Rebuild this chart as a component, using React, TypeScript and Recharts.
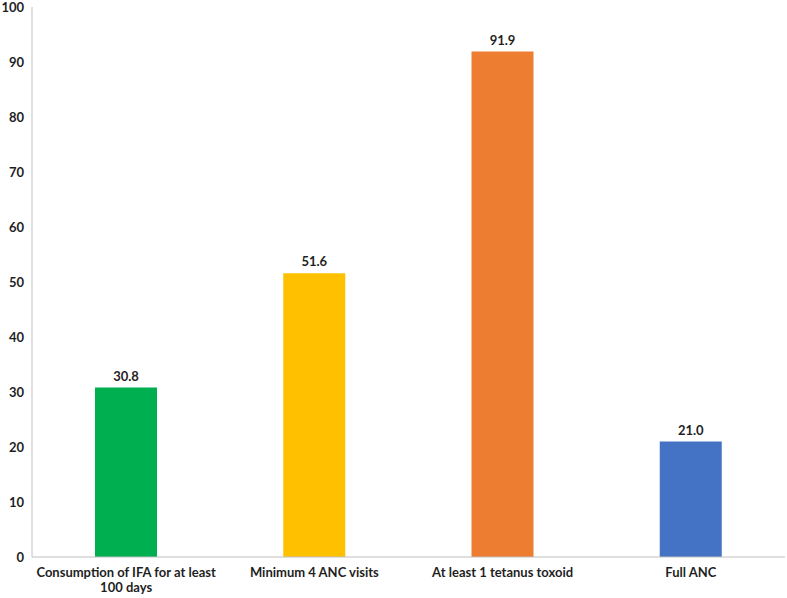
import { BarChart, Bar, XAxis, YAxis, Cell, LabelList, Text } from 'recharts'

const categories = [
  'Consumption of IFA for at least 100 days',
  'Minimum 4 ANC visits',
  'At least 1 tetanus toxoid',
  'Full ANC',
]
const values = [30.8, 51.6, 91.9, 21.0]
const yTicks = [0, 10, 20, 30, 40, 50, 60, 70, 80, 90, 100]

const barColors = ['#00B050', '#FFC000', '#ED7D31', '#4472C4']
const FONT = 'Lato, "Open Sans", sans-serif'
const TEXT_COLOR = '#1f1f1f'

const data = categories.map((name, i) => ({ name, value: values[i] }))

function CategoryTick(props: any) {
  const { x, y, payload } = props
  return (
    <Text
      x={x}
      y={y + 3}
      width={220}
      textAnchor="middle"
      verticalAnchor="start"
      lineHeight={15}
      fill={TEXT_COLOR}
      fontSize={13}
      fontWeight={700}
      fontFamily={FONT}
    >
      {payload.value}
    </Text>
  )
}

export default function App() {
  return (
    <div style={{ position: 'absolute', left: 0, top: 0, background: '#fff' }}>
      <BarChart
        width={787}
        height={598}
        data={data}
        margin={{ top: 7, right: 2, left: 0, bottom: 0 }}
      >
        <XAxis
          dataKey="name"
          height={41}
          tickLine={false}
          axisLine={{ stroke: '#bfbfbf' }}
          interval={0}
          tick={<CategoryTick />}
        />
        <YAxis
          width={32}
          domain={[0, 100]}
          ticks={yTicks}
          interval={0}
          tickLine={false}
          tickMargin={2}
          axisLine={{ stroke: '#bfbfbf' }}
          tick={{ fill: TEXT_COLOR, fontSize: 13, fontWeight: 700, fontFamily: FONT }}
        />
        <Bar dataKey="value" barSize={62} isAnimationActive={false}>
          {data.map((d, i) => (
            <Cell key={d.name} fill={barColors[i]} />
          ))}
          <LabelList
            dataKey="value"
            position="top"
            offset={7}
            formatter={(v: any) => Number(v).toFixed(1)}
            style={{ fill: TEXT_COLOR, fontSize: 13, fontWeight: 700, fontFamily: FONT }}
          />
        </Bar>
      </BarChart>
    </div>
  )
}
